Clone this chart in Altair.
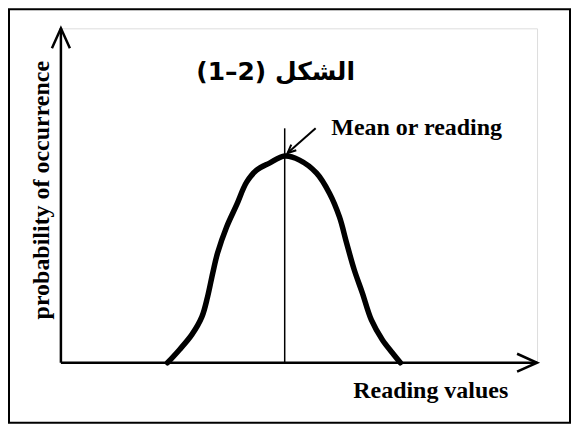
import altair as alt
import pandas as pd

# Bell curve (x: reading value, y: probability, both 0-100 axis units)
curve_x = [22.4, 24.9, 27.5, 29.6, 30.8, 31.9, 32.9, 34.8, 36.9, 39.0, 41.1, 43.8, 47.0,
           50.1, 53.7, 56.4, 58.5, 60.0, 61.6, 63.3, 65.2, 67.5, 69.6, 71.3]
curve_y = [0.0, 3.9, 8.4, 13.7, 19.7, 26.9, 32.8, 40.6, 47.2, 54.0, 57.6, 59.7, 61.8,
           60.6, 56.7, 50.7, 43.6, 35.8, 27.8, 20.9, 12.8, 6.9, 3.0, 0.0]

mean_x = [47.0]
mean_top = [70.1]

pointer_x = [53.5, 47.6]
pointer_y = [70.1, 62.7]

title_text = ["(1–2) الشكل"]
mean_label = ["Mean or reading"]
x_label = ["Reading values"]
y_label = ["probability of occurrence"]

W, H = 477, 335
xs = alt.Scale(domain=[0, 100], nice=False, zero=False)
ys = alt.Scale(domain=[0, 100], nice=False, zero=False)
X = lambda f: alt.X(f, type="quantitative", scale=xs, axis=None)
Y = lambda f: alt.Y(f, type="quantitative", scale=ys, axis=None)

curve_df = pd.DataFrame({"x": curve_x, "y": curve_y})
axes_df = pd.DataFrame({"x": [0, 0], "y": [0, 0], "x2": [100, 0], "y2": [0, 100]})
heads_df = pd.DataFrame({"x": [100, 0], "y": [0, 100], "a": [0, 270]})
mean_df = pd.DataFrame({"x": mean_x, "y": [0], "y2": mean_top})
ptr_df = pd.DataFrame({"x": pointer_x[:1], "y": pointer_y[:1], "x2": pointer_x[1:], "y2": pointer_y[1:]})
ptr_head = pd.DataFrame({"x": pointer_x[1:], "y": pointer_y[1:], "a": [138]})

frame = alt.Chart(pd.DataFrame({"k": [0]})).mark_rect(
    fill=None, stroke="black", strokeWidth=2
).encode(x=alt.value(-52), x2=alt.value(510), y=alt.value(-19), y2=alt.value(395))

axes = alt.Chart(axes_df).mark_rule(stroke="black", strokeWidth=2.5).encode(
    x=X("x"), y=Y("y"), x2="x2", y2="y2")

chevron = "M-2,-0.9L0,0L-2,0.9"
heads = alt.Chart(heads_df).mark_point(
    shape=chevron, size=400, filled=False, stroke="black", strokeWidth=2.5, opacity=1
).encode(x=X("x"), y=Y("y"), angle=alt.Angle("a:Q", scale=None))

curve = alt.Chart(curve_df).mark_line(
    stroke="black", strokeWidth=5.5, interpolate="catmull-rom", strokeCap="round"
).encode(x=X("x"), y=Y("y"), order="x:Q")

mean = alt.Chart(mean_df).mark_rule(stroke="black", strokeWidth=1.5).encode(
    x=X("x"), y=Y("y"), y2="y2")

ptr = alt.Chart(ptr_df).mark_rule(stroke="black", strokeWidth=2).encode(
    x=X("x"), y=Y("y"), x2="x2", y2="y2")
ptr_h = alt.Chart(ptr_head).mark_point(
    shape=chevron, size=70, filled=False, stroke="black", strokeWidth=2, opacity=1
).encode(x=X("x"), y=Y("y"), angle=alt.Angle("a:Q", scale=None))

serif = "Liberation Serif"
title = alt.Chart(pd.DataFrame({"t": title_text, "x": [45.1], "y": [86.9]})).mark_text(
    font="DejaVu Sans", fontSize=25, fontWeight="bold", align="center", baseline="middle"
).encode(x=X("x"), y=Y("y"), text="t:N")

mlab = alt.Chart(pd.DataFrame({"t": mean_label, "x": [56.8], "y": [68.1]})).mark_text(
    font=serif, fontSize=24, fontWeight="bold", align="left", baseline="alphabetic"
).encode(x=X("x"), y=Y("y"), text="t:N")

xlab = alt.Chart(pd.DataFrame({"t": x_label, "x": [61.4], "y": [-10.4]})).mark_text(
    font=serif, fontSize=24, fontWeight="bold", align="left", baseline="alphabetic"
).encode(x=X("x"), y=Y("y"), text="t:N")

ylab = alt.Chart(pd.DataFrame({"t": y_label, "x": [-4.0], "y": [51.6]})).mark_text(
    font=serif, fontSize=24, fontWeight="bold", align="center", baseline="middle", angle=270
).encode(x=X("x"), y=Y("y"), text="t:N")

chart = alt.layer(frame, axes, heads, curve, mean, ptr, ptr_h, title, mlab, xlab, ylab).properties(
    width=W, height=H,
    padding={"left": 53, "top": 20, "right": 34, "bottom": 61},
    autosize=alt.AutoSizeParams(type="none"),
).configure_view(stroke=None).configure(background="white")

chart.save("out.html", embed_options={"renderer": "svg", "actions": False})
